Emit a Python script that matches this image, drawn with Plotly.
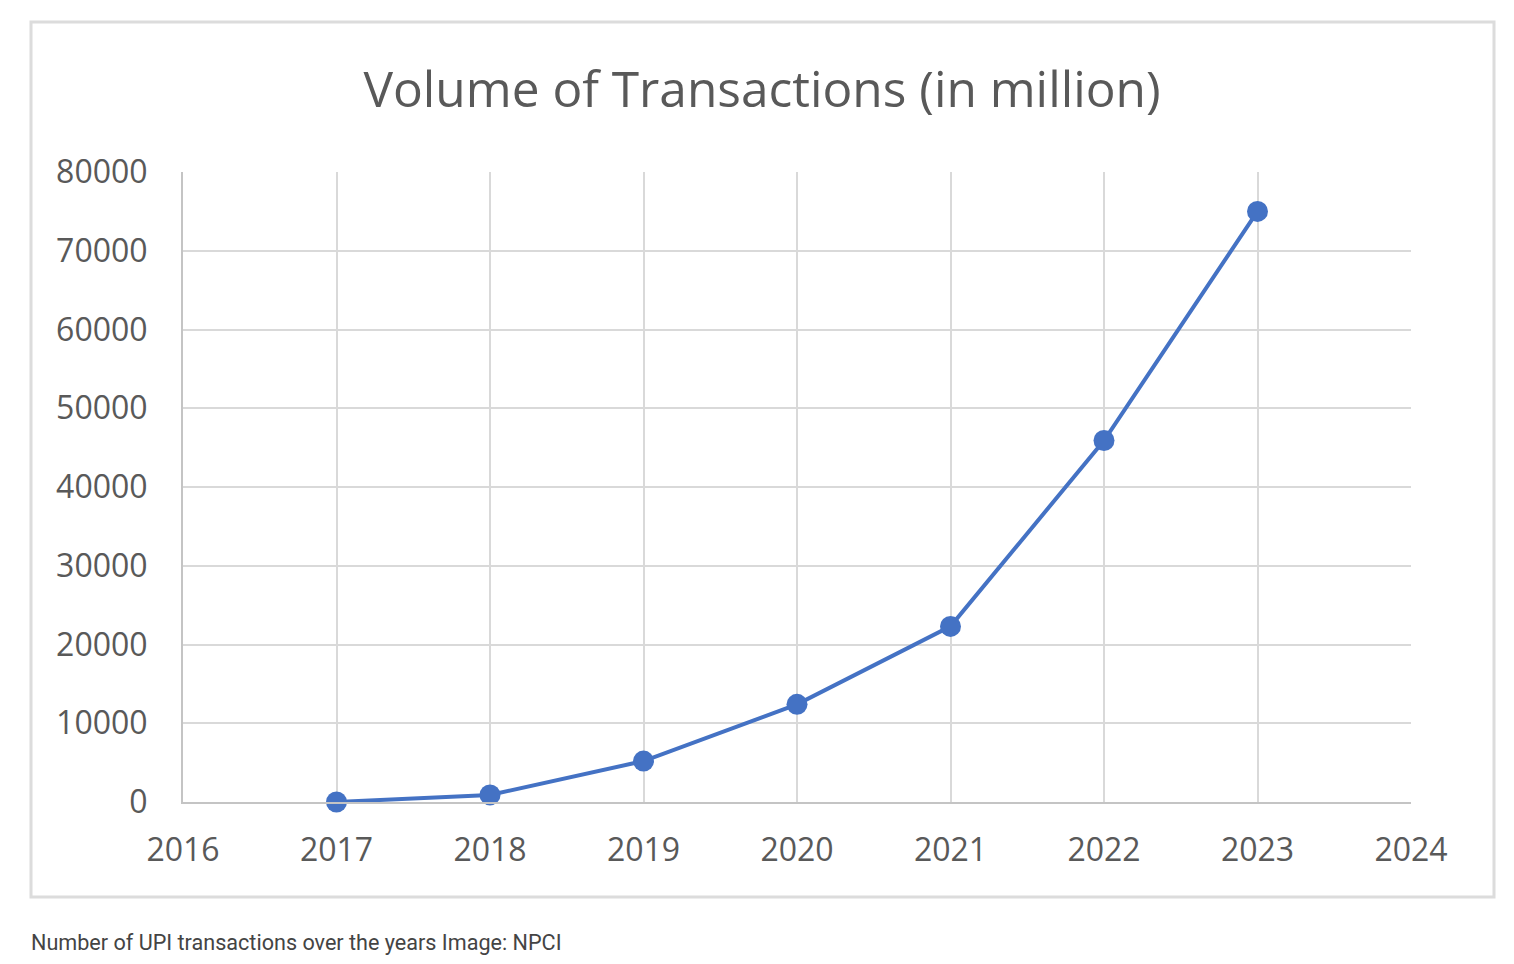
import plotly.graph_objs as go

# UPI transaction volume (in million)
years = [2017, 2018, 2019, 2020, 2021, 2022, 2023]
volume = [0, 900, 5200, 12400, 22300, 45900, 75000]

y_ticks = [0, 10000, 20000, 30000, 40000, 50000, 60000, 70000, 80000]
x_ticks = [2016, 2017, 2018, 2019, 2020, 2021, 2022, 2023, 2024]

W, H = 1514, 964
OFF = 8  # page body margin
grid = "#d9d9d9"
txt = "#595959"

def px(x):
	return (x - OFF) / W

def py(y):
	return 1 - (y - OFF) / H

fig = go.Figure()

fig.add_trace(go.Scatter(
	x = years,
	y = volume,
	mode = "lines+markers",
	name = "Volume",
	line = dict(color = "#4472C4", width = 4),
	marker = dict(color = "#4472C4", size = 21),
	cliponaxis = False,
	showlegend = False))

# outer chart frame
fig.add_shape(type="rect", xref="paper", yref="paper",
	x0=px(31), x1=px(1494), y0=py(897), y1=py(22),
	line=dict(color="#dcdcdc", width=3), fillcolor="rgba(0,0,0,0)", layer="below")

fig.update_layout(
	width = W, height = H,
	margin = dict(l=0, r=0, t=0, b=0),
	paper_bgcolor = "white",
	plot_bgcolor = "white",
	title = dict(text="Volume of Transactions (in million)", x=px(762), xanchor="center",
		y=py(90), yanchor="middle",
		font=dict(family="Open Sans", size=49.6, color=txt)),
	xaxis = dict(
		domain=[px(183), px(1411)], range=[2016, 2024],
		tickvals=x_ticks, ticktext=[str(v) for v in x_ticks],
		showgrid=True, gridcolor=grid, gridwidth=2,
		showline=True, linecolor="#c4c4c4", linewidth=2, mirror=False,
		zeroline=False, ticklabelstandoff=19, automargin=False,
		tickfont=dict(family="Open Sans", size=32, color=txt)),
	yaxis = dict(
		domain=[py(802), py(172)], range=[0, 80000],
		tickvals=y_ticks, ticktext=[str(v) for v in y_ticks],
		showgrid=True, gridcolor=grid, gridwidth=2,
		showline=True, linecolor="#c4c4c4", linewidth=2,
		zeroline=False, ticklabelstandoff=27, automargin=False,
		tickfont=dict(family="Open Sans", size=32, color=txt)),
)

fig.add_annotation(text="Number of UPI transactions over the years Image: NPCI",
	xref="paper", yref="paper", x=px(29), y=py(942), xanchor="left", yanchor="middle",
	showarrow=False, font=dict(family="Roboto", size=21.6, color="#444444"))

fig.write_html("out.html")
